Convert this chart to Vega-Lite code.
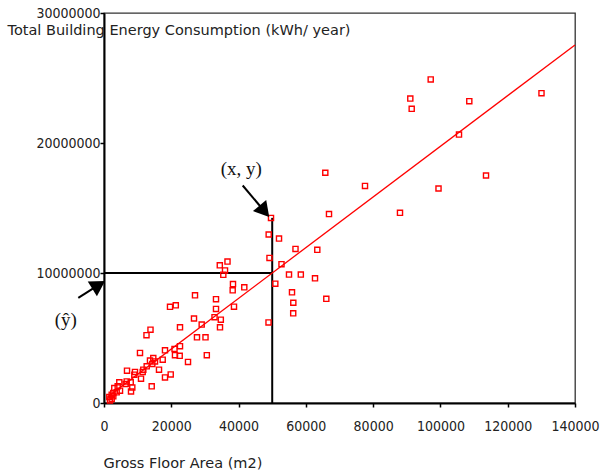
{
  "$schema": "https://vega.github.io/schema/vega-lite/v6.json",
  "width": 471,
  "height": 390,
  "autosize": {"type": "none"},
  "padding": {"left": 104, "top": 13, "right": 25, "bottom": 68},
  "background": "white",
  "config": {
    "view": {"stroke": "#333", "strokeWidth": 1.3},
    "font": "DejaVu Sans",
    "axis": {
      "grid": false,
      "labelFont": "DejaVu Sans Condensed, DejaVu Sans",
      "labelFontSize": 14,
      "labelColor": "#222",
      "domainColor": "#000",
      "domainWidth": 2,
      "tickColor": "#000",
      "tickWidth": 1.5,
      "tickSize": 4,
      "titleFont": "DejaVu Sans",
      "titleFontWeight": "normal",
      "titleFontSize": 14.5,
      "titleColor": "#222",
      "labelFlush": false
    }
  },
  "datasets": {
    "pts": [
      {"area": 97110, "energy": 24890000}, {"area": 91045, "energy": 23420000}, {"area": 91460, "energy": 22630000},
      {"area": 108580, "energy": 23220000}, {"area": 130040, "energy": 23830000}, {"area": 105520, "energy": 20650000},
      {"area": 113550, "energy": 17500000}, {"area": 99430, "energy": 16500000}, {"area": 87980, "energy": 14630000},
      {"area": 77580, "energy": 16700000}, {"area": 65780, "energy": 17710000}, {"area": 66880, "energy": 14530000},
      {"area": 49640, "energy": 14240000}, {"area": 48950, "energy": 12960000}, {"area": 52020, "energy": 12650000},
      {"area": 56920, "energy": 11850000}, {"area": 63400, "energy": 11780000}, {"area": 49190, "energy": 11160000},
      {"area": 52760, "energy": 10680000}, {"area": 54990, "energy": 9880000}, {"area": 58500, "energy": 9880000},
      {"area": 62720, "energy": 9590000}, {"area": 50920, "energy": 9180000}, {"area": 55880, "energy": 8510000},
      {"area": 66080, "energy": 8010000}, {"area": 56270, "energy": 7710000}, {"area": 56240, "energy": 6900000},
      {"area": 48900, "energy": 6200000}, {"area": 36710, "energy": 10880000}, {"area": 34420, "energy": 10590000},
      {"area": 35970, "energy": 10200000}, {"area": 35460, "energy": 9860000}, {"area": 38340, "energy": 9150000},
      {"area": 38250, "energy": 8670000}, {"area": 41700, "energy": 8900000}, {"area": 33290, "energy": 7990000},
      {"area": 38640, "energy": 7410000}, {"area": 33290, "energy": 7240000}, {"area": 27050, "energy": 8280000},
      {"area": 19620, "energy": 7400000}, {"area": 21340, "energy": 7510000}, {"area": 26750, "energy": 6500000},
      {"area": 32850, "energy": 6600000}, {"area": 34720, "energy": 6410000}, {"area": 29040, "energy": 6030000},
      {"area": 22590, "energy": 5820000}, {"area": 34480, "energy": 5820000}, {"area": 27640, "energy": 5050000},
      {"area": 30170, "energy": 5050000}, {"area": 12630, "energy": 5220000}, {"area": 13820, "energy": 5640000},
      {"area": 18130, "energy": 4050000}, {"area": 20960, "energy": 4160000}, {"area": 22590, "energy": 4370000},
      {"area": 21100, "energy": 3680000}, {"area": 22500, "energy": 3630000}, {"area": 30560, "energy": 3680000},
      {"area": 24970, "energy": 3160000}, {"area": 10700, "energy": 3850000}, {"area": 14650, "energy": 3460000},
      {"area": 13670, "energy": 3260000}, {"area": 17450, "energy": 3330000}, {"area": 15160, "energy": 3200000},
      {"area": 14360, "energy": 3000000}, {"area": 12690, "energy": 2820000}, {"area": 16350, "energy": 2560000},
      {"area": 18130, "energy": 1970000}, {"area": 11680, "energy": 2560000}, {"area": 11500, "energy": 2390000},
      {"area": 9210, "energy": 2390000}, {"area": 6840, "energy": 2490000}, {"area": 9010, "energy": 2180000},
      {"area": 11000, "energy": 1870000}, {"area": 14180, "energy": 1280000}, {"area": 6750, "energy": 1660000},
      {"area": 7940, "energy": 1590000}, {"area": 8410, "energy": 1200000}, {"area": 8030, "energy": 890000},
      {"area": 6450, "energy": 1460000}, {"area": 4550, "energy": 1590000}, {"area": 4070, "energy": 1280000},
      {"area": 3060, "energy": 1150000}, {"area": 4760, "energy": 950000}, {"area": 2760, "energy": 770000},
      {"area": 3770, "energy": 820000}, {"area": 2290, "energy": 640000}, {"area": 1580, "energy": 460000},
      {"area": 2290, "energy": 310000}, {"area": 1780, "energy": 200000}, {"area": 2760, "energy": 510000},
      {"area": 19830, "energy": 2200000}
    ],
    "fit": [
      {"area": 1000, "energy": 451000},
      {"area": 140000, "energy": 27540000}
    ],
    "guides": [
      {"x": 50000, "y": 0, "x2": 50000, "y2": 14240000},
      {"x": 0, "y": 10000000, "x2": 50000, "y2": 10000000}
    ],
    "shafts": [
      {"x": 41230, "y": 16730000, "x2": 47680, "y2": 14750000},
      {"x": -7640, "y": 8080000, "x2": -1575, "y2": 9080000}
    ],
    "head1": [{"x": 47680, "y": 14750000}],
    "head2": [{"x": -1575, "y": 9080000}],
    "labels": [
      {"x": 40810, "y": 17980000, "label": "(x, y)"},
      {"x": -11350, "y": 6370000, "label": "(ŷ)"}
    ]
  },
  "layer": [
    {
      "data": {"name": "guides"},
      "mark": {"type": "rule", "color": "#000", "strokeWidth": 2},
      "encoding": {
        "x": {"field": "x", "type": "quantitative",
          "scale": {"domain": [0, 140000], "nice": false, "zero": false},
          "axis": {"values": [0, 20000, 40000, 60000, 80000, 100000, 120000, 140000], "format": "d",
            "labelPadding": 12, "title": "Gross Floor Area (m2)",
            "titleAlign": "left", "titleBaseline": "middle", "titleX": -1, "titleY": 60, "titleAnchor": "start"}},
        "y": {"field": "y", "type": "quantitative",
          "scale": {"domain": [0, 30000000], "nice": false, "zero": false},
          "axis": {"values": [0, 10000000, 20000000, 30000000], "format": "d",
            "labelPadding": 0, "title": "Total Building Energy Consumption (kWh/ year)",
            "titleAngle": 0, "titleAlign": "left", "titleBaseline": "middle", "titleX": -97, "titleY": 17, "titleAnchor": "start"}},
        "x2": {"field": "x2"},
        "y2": {"field": "y2"}
      }
    },
    {
      "data": {"name": "fit"},
      "mark": {"type": "line", "color": "#ff0000", "strokeWidth": 1.3},
      "encoding": {
        "x": {"field": "area", "type": "quantitative"},
        "y": {"field": "energy", "type": "quantitative"}
      }
    },
    {
      "data": {"name": "pts"},
      "mark": {"type": "point", "shape": "square", "filled": false, "color": "#ff0000", "size": 26, "strokeWidth": 1.4, "opacity": 1},
      "encoding": {
        "x": {"field": "area", "type": "quantitative"},
        "y": {"field": "energy", "type": "quantitative"}
      }
    },
    {
      "data": {"name": "shafts"},
      "mark": {"type": "rule", "color": "#000", "strokeWidth": 2},
      "encoding": {
        "x": {"field": "x", "type": "quantitative"},
        "y": {"field": "y", "type": "quantitative"},
        "x2": {"field": "x2"},
        "y2": {"field": "y2"}
      }
    },
    {
      "data": {"name": "head1"},
      "mark": {"type": "point", "shape": "triangle-right", "filled": true, "color": "#000", "size": 300, "angle": 50, "opacity": 1},
      "encoding": {
        "x": {"field": "x", "type": "quantitative"},
        "y": {"field": "y", "type": "quantitative"}
      }
    },
    {
      "data": {"name": "head2"},
      "mark": {"type": "point", "shape": "triangle-right", "filled": true, "color": "#000", "size": 300, "angle": -32, "opacity": 1},
      "encoding": {
        "x": {"field": "x", "type": "quantitative"},
        "y": {"field": "y", "type": "quantitative"}
      }
    },
    {
      "data": {"name": "labels"},
      "mark": {"type": "text", "font": "Liberation Serif", "fontSize": 19, "color": "#111", "align": "center", "baseline": "middle"},
      "encoding": {
        "x": {"field": "x", "type": "quantitative"},
        "y": {"field": "y", "type": "quantitative"},
        "text": {"field": "label"}
      }
    }
  ]
}
